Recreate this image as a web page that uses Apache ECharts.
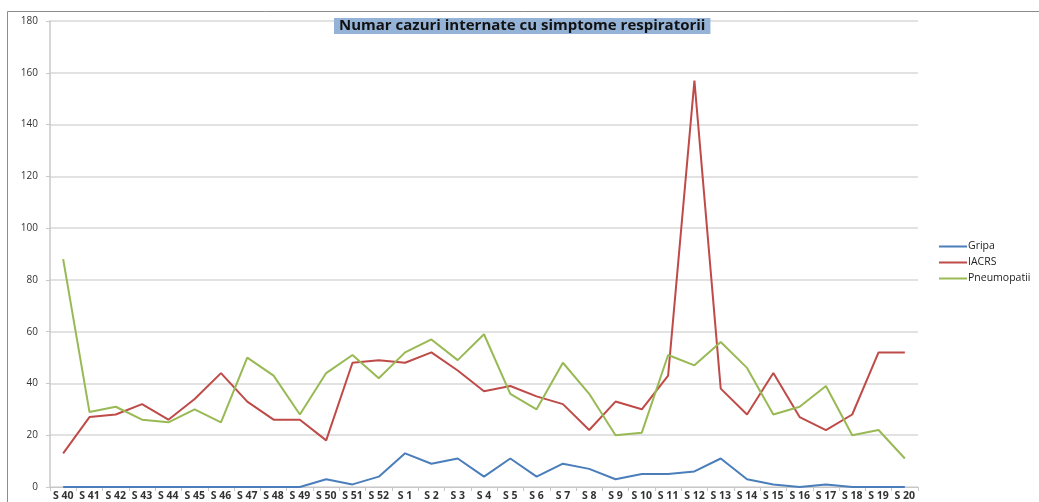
<!DOCTYPE html>
<html>
<head>
<meta charset="utf-8">
<script src="https://cdn.jsdelivr.net/npm/echarts@6/dist/echarts.min.js"></script>
<style>
html,body{margin:0;padding:0;background:#fff;}
#c{width:1039px;height:502px;}
</style>
</head>
<body>
<div id="c"></div>
<script>
const categories = ['S 40','S 41','S 42','S 43','S 44','S 45','S 46','S 47','S 48','S 49','S 50','S 51','S 52',
  'S 1','S 2','S 3','S 4','S 5','S 6','S 7','S 8','S 9','S 10','S 11','S 12','S 13','S 14','S 15','S 16','S 17','S 18','S 19','S 20'];
const gripa = [0,0,0,0,0,0,0,0,0,0,3,1,4,13,9,11,4,11,4,9,7,3,5,5,6,11,3,1,0,1,0,0,0];
const iacrs = [13,27,28,32,26,34,44,33,26,26,18,48,49,48,52,45,37,39,35,32,22,33,30,43,157,38,28,44,27,22,28,52,52];
const pneumopatii = [88,29,31,26,25,30,25,50,43,28,44,51,42,52,57,49,59,36,30,48,36,20,21,51,47,56,46,28,31,39,20,22,11];
const titleText = 'Numar cazuri internate cu simptome respiratorii';

const chart = echarts.init(document.getElementById('c'));
chart.setOption({
  animation: false,
  backgroundColor: '#fff',
  title: {
    text: titleText,
    left: 334, top: 18,
    padding: [0, 5, 0, 5],
    backgroundColor: '#95b3d7',
    textStyle: { fontFamily: 'Open Sans', fontWeight: 'bold', fontSize: 15, lineHeight: 16, color: '#111' }
  },
  graphic: [
    { type: 'line', shape: { x1: 7.5, y1: 11.5, x2: 1039, y2: 11.5 }, style: { stroke: '#8c8c8c', lineWidth: 1 } },
    { type: 'line', shape: { x1: 7.5, y1: 11.5, x2: 7.5, y2: 502 }, style: { stroke: '#8c8c8c', lineWidth: 1 } }
  ],
  legend: {
    orient: 'vertical',
    left: 934, top: 236,
    itemWidth: 28, itemHeight: 2, itemGap: 5,
    icon: 'rect',
    textStyle: { fontFamily: 'Open Sans', fontSize: 10.5, color: '#222', padding: [0,0,0,-4] },
    data: ['Gripa','IACRS','Pneumopatii']
  },
  grid: { left: 50, right: 121, top: 21, bottom: 15, containLabel: false },
  xAxis: {
    type: 'category',
    data: categories,
    boundaryGap: true,
    axisLine: { lineStyle: { color: '#c8c8c8', width: 1 } },
    axisTick: { show: true, length: 4, lineStyle: { color: '#c8c8c8' } },
    axisLabel: { interval: 0, margin: 4, fontFamily: 'Open Sans', fontSize: 10.5, fontWeight: 'bold', color: '#333' }
  },
  yAxis: {
    type: 'value', min: 0, max: 180, interval: 20,
    axisLine: { show: true, lineStyle: { color: '#c8c8c8', width: 1.5 } },
    axisTick: { show: true, length: 4, lineStyle: { color: '#c8c8c8' } },
    axisLabel: { margin: 12, fontFamily: 'Open Sans', fontSize: 10, color: '#333' },
    splitLine: { lineStyle: { color: '#d9d9d9', width: 1.5 } }
  },
  series: [
    { name: 'Gripa', type: 'line', data: gripa, symbol: 'none', lineStyle: { width: 2, color: '#4a7ebb' }, itemStyle: { color: '#4a7ebb' } },
    { name: 'IACRS', type: 'line', data: iacrs, symbol: 'none', lineStyle: { width: 2, color: '#be4b48' }, itemStyle: { color: '#be4b48' } },
    { name: 'Pneumopatii', type: 'line', data: pneumopatii, symbol: 'none', lineStyle: { width: 2, color: '#98b954' }, itemStyle: { color: '#98b954' } }
  ]
});
</script>
</body>
</html>
